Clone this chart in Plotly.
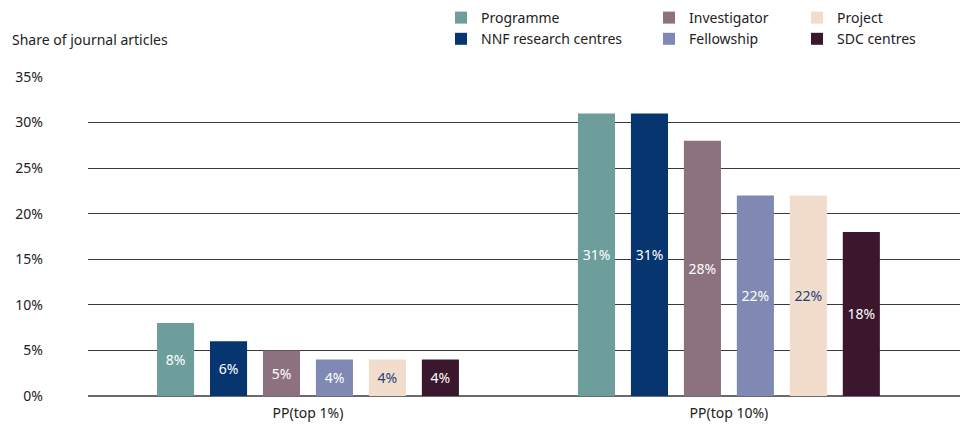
import plotly.graph_objects as go

categories = ["PP(top 1%)", "PP(top 10%)"]
series_names = ["Programme", "NNF research centres", "Investigator", "Fellowship", "Project", "SDC centres"]
programme = [8, 31]
nnf = [6, 31]
investigator = [5, 28]
fellowship = [4, 22]
project = [4, 22]
sdc = [4, 18]
values = [programme, nnf, investigator, fellowship, project, sdc]
colors = ["#6e9e9c", "#073570", "#8c717e", "#7f89b3", "#f2ddcd", "#3a172c"]
label_colors = ["#ffffff", "#ffffff", "#ffffff", "#ffffff", "#1d3f7a", "#ffffff"]
legend_ids = ["legend", "legend", "legend2", "legend2", "legend3", "legend3"]
y_ticks = [0, 5, 10, 15, 20, 25, 30, 35]
y_tick_labels = ["0%", "5%", "10%", "15%", "20%", "25%", "30%", "35%"]

FONT = "Noto Sans"
OFF = 8  # page body margin
W, H = 971 - OFF, 427 - OFF
L, T = 88 - OFF, 77 - OFF
R, B = 11, 31
PW, PH = W - L - R, H - T - B

fig = go.Figure()
for name, vals, col, lc, lg in zip(series_names, values, colors, label_colors, legend_ids):
    fig.add_trace(go.Bar(
        x=categories, y=vals, name=name,
        marker=dict(color=col, line=dict(width=0)),
        text=[f"{v}%" for v in vals],
        textposition="inside", insidetextanchor="middle",
        textfont=dict(color=lc, size=14, family=FONT, weight="normal"),
        legend=lg,
    ))

legend_common = dict(orientation="v", font=dict(size=14, family=FONT, color="#222"),
                     bgcolor="rgba(0,0,0,0)", yanchor="top", y=1.0 + (T + 6) / PH, xanchor="left",
                     tracegroupgap=0, itemsizing="constant")

fig.update_layout(
    width=W, height=H,
    margin=dict(l=L, r=R, t=T, b=B, autoexpand=False),
    paper_bgcolor="white", plot_bgcolor="white",
    font=dict(family=FONT, size=14, color="#222"),
    barmode="group", bargap=0.245, bargroupgap=0.30,
    showlegend=True,
    legend=dict(x=(441 - 88) / PW, **legend_common),
    legend2=dict(x=(649 - 88) / PW, **legend_common),
    legend3=dict(x=(797 - 88) / PW, **legend_common),
    xaxis=dict(type="category", range=[-0.5226, 1.549], showgrid=False,
               showline=False, ticks="", ticklabelstandoff=7,
               tickfont=dict(size=14, family=FONT, color="#222")),
    yaxis=dict(range=[0, 35], tickvals=y_ticks, ticktext=y_tick_labels,
               showgrid=True, gridcolor="#3a3a3a", gridwidth=1,
               zeroline=True, zerolinecolor="#6a6a6a", zerolinewidth=2,
               showline=False, ticks="", ticklabelstandoff=44,
               tickfont=dict(size=14, family=FONT, color="#222")),
    annotations=[dict(text="Share of journal articles", xref="paper", yref="paper",
                      x=(10 - 88) / PW, y=1.0 + (77 - 40) / PH, xanchor="left", yanchor="middle",
                      showarrow=False, font=dict(size=14, family=FONT, color="#222"))],
)

fig.write_html("out.html")
